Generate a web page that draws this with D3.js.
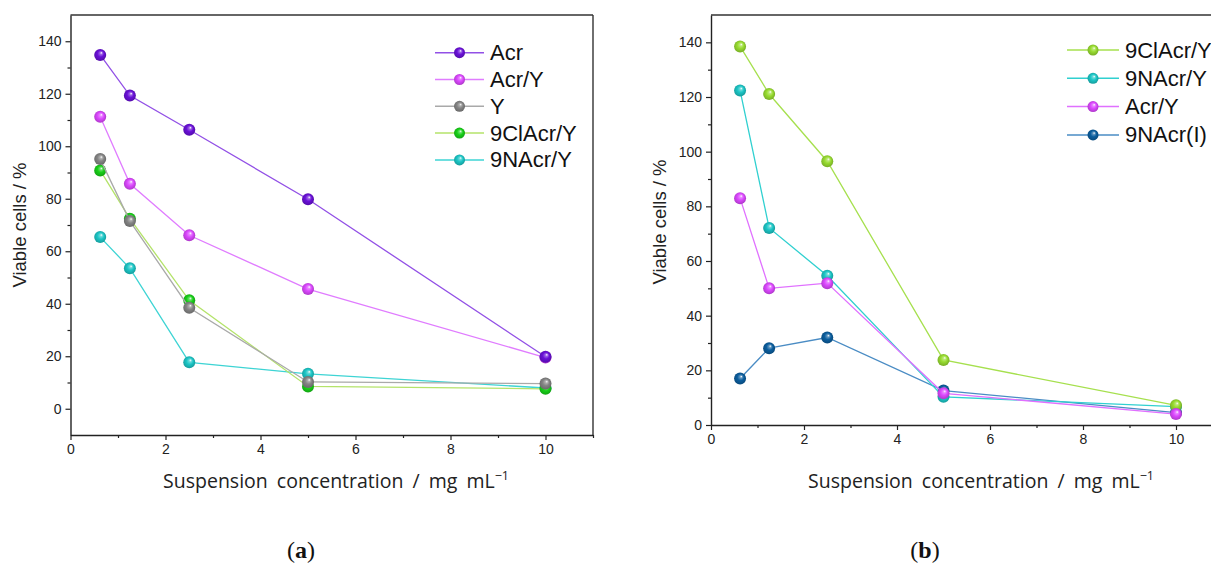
<!DOCTYPE html>
<html>
<head>
<meta charset="utf-8">
<script src="https://cdn.jsdelivr.net/npm/d3@7"></script>
<style>
  html, body { margin: 0; padding: 0; background: #fff; }
  svg { display: block; }
</style>
</head>
<body>
<svg id="chart" width="1211" height="563"></svg>
<script>
// ---------- DATA ----------
const concentrations = [0.625, 1.25, 2.5, 5, 10];

// Panel (a)
const namesA = ["Acr", "Acr/Y", "Y", "9ClAcr/Y", "9NAcr/Y"];
const acrA     = [134.8, 119.3, 106.3, 79.8, 19.8];
const acrYA    = [111.2, 85.7, 66.1, 45.6, 19.5];
const yA       = [95.1, 71.5, 38.5, 10.2, 9.6];
const clAcrYA  = [90.8, 72.4, 41.3, 8.5, 7.6];
const nAcrYA   = [65.4, 53.5, 17.7, 13.3, 7.9];

// Panel (b)
const namesB = ["9ClAcr/Y", "9NAcr/Y", "Acr/Y", "9NAcr(I)"];
const clAcrYB  = [138.5, 121.1, 96.5, 23.8, 7.2];
const nAcrYB   = [122.4, 72.1, 54.6, 10.3, 6.7];
const acrYB    = [83.0, 50.0, 51.9, 11.6, 4.0];
const nAcrIB   = [17.0, 28.1, 32.0, 12.6, 4.5];

const xMajorTicks = [0, 2, 4, 6, 8, 10];
const xMinorTicks = [1, 3, 5, 7, 9, 11];
const yMajorTicks = [0, 20, 40, 60, 80, 100, 120, 140];
const yMinorTicks = [10, 30, 50, 70, 90, 110, 130];

const yTitle = "Viable cells / %";
const xTitle = "Suspension concentration / mg mL";
const xTitleSup = "\u22121";

// ---------- STYLE ----------
const svg = d3.select("#chart");
const defs = svg.append("defs");
const axisFont = "'Liberation Sans', Arial, sans-serif";

function gradientFor(id, base) {
  const c = d3.color(base);
  const g = defs.append("radialGradient").attr("id", id)
    .attr("cx", "45%").attr("cy", "50%").attr("r", "60%")
    .attr("fx", "62%").attr("fy", "32%");
  g.append("stop").attr("offset", "0%").attr("stop-color", "#ffffff");
  g.append("stop").attr("offset", "18%").attr("stop-color", d3.interpolateRgb(base, "#fff")(0.35));
  g.append("stop").attr("offset", "45%").attr("stop-color", base);
  g.append("stop").attr("offset", "100%").attr("stop-color", c.darker(0.9).formatHex());
  return `url(#${id})`;
}

function drawPanel(cfg) {
  const g = svg.append("g");
  const x = d3.scaleLinear().domain([0, 11]).range([cfg.left, cfg.right]);
  const y = d3.scaleLinear().domain(cfg.yDomain).range([cfg.bottom, cfg.top]);

  // frame (top & right)
  g.append("line").attr("x1", cfg.left).attr("x2", cfg.right).attr("y1", cfg.top).attr("y2", cfg.top)
    .attr("stroke", "#333").attr("stroke-width", 1.4);
  g.append("line").attr("x1", cfg.right).attr("x2", cfg.right).attr("y1", cfg.top).attr("y2", cfg.bottom)
    .attr("stroke", "#333").attr("stroke-width", 1.4);

  // axes
  g.append("g").attr("transform", `translate(0,${cfg.bottom})`)
    .call(d3.axisBottom(x).tickValues(xMajorTicks).tickSize(5).tickSizeOuter(0).tickPadding(4).tickFormat(d3.format("d")));
  g.append("g").attr("transform", `translate(0,${cfg.bottom})`)
    .call(d3.axisBottom(x).tickValues(xMinorTicks).tickSize(3).tickSizeOuter(0).tickFormat(""))
    .select(".domain").remove();
  g.append("g").attr("transform", `translate(${cfg.left},0)`)
    .call(d3.axisLeft(y).tickValues(yMajorTicks).tickSize(5).tickSizeOuter(0).tickPadding(4).tickFormat(d3.format("d")));
  g.append("g").attr("transform", `translate(${cfg.left},0)`)
    .call(d3.axisLeft(y).tickValues(yMinorTicks).tickSize(3).tickSizeOuter(0).tickFormat(""))
    .select(".domain").remove();
  g.selectAll(".domain").attr("stroke", "#222").attr("stroke-width", 1.4);
  g.selectAll(".tick line").attr("stroke", "#222").attr("stroke-width", 1.2);
  g.selectAll(".tick text").attr("font-family", axisFont).attr("font-size", 14).attr("fill", "#222");

  // y title
  g.append("text")
    .attr("transform", `translate(${cfg.yTitleX},${cfg.yTitleY}) rotate(-90)`)
    .attr("text-anchor", "middle").attr("dominant-baseline", "middle")
    .attr("font-family", axisFont).attr("font-size", 18.5).attr("fill", "#222")
    .text(yTitle);

  // x title
  const xt = g.append("text")
    .attr("x", cfg.xTitleX).attr("y", cfg.xTitleY)
    .attr("text-anchor", "middle")
    .attr("font-family", "'Open Sans', sans-serif").attr("font-size", 19.5)
    .attr("word-spacing", 4).attr("fill", "#222");
  xt.append("tspan").text(xTitle);
  xt.append("tspan").attr("dy", -8).attr("font-size", 12.5).text(xTitleSup);

  // panel label
  const pl = g.append("text").attr("x", cfg.labelX).attr("y", 558)
    .attr("text-anchor", "middle")
    .attr("font-family", "'Liberation Serif', 'DejaVu Serif', serif").attr("font-size", 24).attr("fill", "#111");
  pl.append("tspan").text("(");
  pl.append("tspan").attr("font-weight", "bold").text(cfg.label);
  pl.append("tspan").text(")");

  // series (draw order given)
  const line = d3.line().x((d, i) => x(concentrations[i])).y(d => y(d));
  cfg.drawOrder.forEach(s => {
    g.append("path").datum(s.values).attr("d", line)
      .attr("fill", "none").attr("stroke", s.line).attr("stroke-width", 1.3);
    g.selectAll(null).data(s.values).enter().append("circle")
      .attr("cx", (d, i) => x(concentrations[i])).attr("cy", d => y(d))
      .attr("r", 6).attr("fill", s.fill);
  });

  // legend
  cfg.legend.forEach((s, i) => {
    const ly = cfg.legY + i * cfg.legStep;
    g.append("line").attr("x1", cfg.legX).attr("x2", cfg.legX + cfg.legLen).attr("y1", ly).attr("y2", ly)
      .attr("stroke", s.line).attr("stroke-width", 1.5);
    g.append("circle").attr("cx", cfg.legX + cfg.legLen / 2).attr("cy", ly).attr("r", 5.5).attr("fill", s.fill);
    g.append("text").attr("x", cfg.legX + cfg.legLen + 6).attr("y", ly)
      .attr("dominant-baseline", "central")
      .attr("font-family", axisFont).attr("font-size", 22).attr("fill", "#111")
      .text(s.name);
  });
}

// series styles
const sA = [
  { name: namesA[0], values: acrA,    line: "#9250e6", fill: gradientFor("gA0", "#6a10d8") },
  { name: namesA[1], values: acrYA,   line: "#e07cff", fill: gradientFor("gA1", "#dc48ff") },
  { name: namesA[2], values: yA,      line: "#a9a9a9", fill: gradientFor("gA2", "#858585") },
  { name: namesA[3], values: clAcrYA, line: "#b4e36a", fill: gradientFor("gA3", "#18d018") },
  { name: namesA[4], values: nAcrYA,  line: "#3ed4d4", fill: gradientFor("gA4", "#1cc6c6") }
];
const sB = [
  { name: namesB[0], values: clAcrYB, line: "#a6e04e", fill: gradientFor("gB0", "#98dc30") },
  { name: namesB[1], values: nAcrYB,  line: "#30d0d0", fill: gradientFor("gB1", "#1cc6c6") },
  { name: namesB[2], values: acrYB,   line: "#e070ff", fill: gradientFor("gB2", "#dc48ff") },
  { name: namesB[3], values: nAcrIB,  line: "#4a8cc4", fill: gradientFor("gB3", "#0b5e9e") }
];

drawPanel({
  left: 70.5, right: 593, top: 15, bottom: 435, yDomain: [-10, 150],
  yTitleX: 21, yTitleY: 225, xTitleX: 336, xTitleY: 488,
  label: "a", labelX: 301,
  drawOrder: [sA[4], sA[3], sA[2], sA[1], sA[0]],
  legend: sA, legX: 435, legLen: 49, legY: 52.7, legStep: 26.8
});

drawPanel({
  left: 711, right: 711 + 11 * 46.5, top: 15, bottom: 425, yDomain: [0, 150],
  yTitleX: 661, yTitleY: 222, xTitleX: 981, xTitleY: 488,
  label: "b", labelX: 925,
  drawOrder: [sB[3], sB[1], sB[0], sB[2]],
  legend: sB, legX: 1067, legLen: 52, legY: 50, legStep: 28.3
});
</script>
</body>
</html>
